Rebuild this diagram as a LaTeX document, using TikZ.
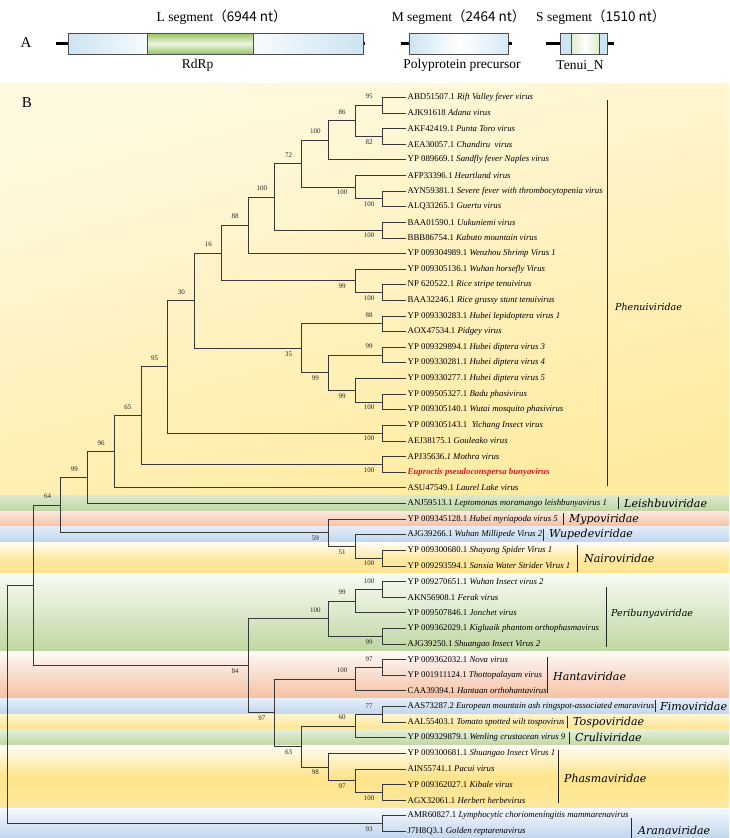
\documentclass[tikz,border=0pt]{standalone}
\usepackage{fontspec}
\setmainfont{Liberation Serif}
\newfontfamily\cjk{Noto Sans CJK SC}
\newfontfamily\famfont{DejaVu Serif}
\pgfmathdeclarefunction{ly}{1}{\pgfmathparse{97.3+(#1-1)*15.62}}
\pgfmathdeclarefunction{cx}{1}{\pgfmathparse{408.8-26.79*#1}}
\definecolor{ylw}{RGB}{255,228,140}
\definecolor{phtop}{RGB}{255,249,224}
\definecolor{phbot}{RGB}{255,235,160}
\definecolor{grn}{RGB}{190,214,160}
\definecolor{org}{RGB}{245,192,162}
\definecolor{blu}{RGB}{192,213,238}
\definecolor{lblue}{RGB}{205,228,242}
\definecolor{rdgreen}{RGB}{150,196,100}
\definecolor{pgreen}{RGB}{238,246,226}
\definecolor{eured}{RGB}{215,25,30}
\begin{document}
\begin{tikzpicture}[x=1pt,y=-1pt,
  branch/.style={draw=black!78, line width=0.75pt},
  leaf/.style={anchor=west, inner sep=1.5pt, font=\fontsize{8.8}{9}\selectfont},
  bsa/.style={anchor=south, inner sep=0pt, yshift=6pt, font=\fontsize{7}{7}\selectfont, text=black!85},
  bsb/.style={anchor=north, inner sep=0pt, yshift=-3pt, font=\fontsize{7}{7}\selectfont, text=black!85},
  fam/.style={anchor=west, inner sep=0pt, font=\famfont\itshape\fontsize{11}{11}\selectfont},
  famsmall/.style={anchor=west, inner sep=0pt, font=\famfont\itshape\fontsize{9.5}{9.5}\selectfont},
  fbar/.style={draw=black!85, line width=0.9pt},
  segtext/.style={inner sep=0pt, font=\fontsize{13.5}{14}\selectfont},
  stub/.style={draw=black, line width=3.5pt},
  segline/.style={draw=black!70, line width=0.6pt}]
\useasboundingbox (0,0) rectangle (729,838);
\fill[white] (0,0) rectangle (729,838);

% ---------- Panel A ----------
\node[inner sep=0pt, font=\fontsize{15}{15}\selectfont] (labA) at (26,43) {A};
\draw[stub] (56,43.6) -- (68.7,43.6);
\shade[left color=lblue, right color=white!85!lblue] (68.7,33.3) rectangle (147.7,54);
\shade[top color=rdgreen, bottom color=rdgreen, middle color=pgreen] (147.7,33.3) rectangle (252.8,54);
\shade[left color=white!85!lblue, right color=lblue] (252.8,33.3) rectangle (363.6,54);
\draw[segline] (68.7,33.3) rectangle (363.6,54);
\draw[segline] (147.7,33.3) -- (147.7,54) (252.8,33.3) -- (252.8,54);
\draw[stub, line width=2.5pt] (363.6,43.6) -- (365,43.6);
\node[segtext, anchor=west] (ltxt) at (156.5,16.7) {L segment\cjk{（}6944 nt\cjk{）}};
\node[segtext] (rdrp) at (197.6,65.7) {RdRp};

\draw[stub] (401,43.6) -- (409,43.6);
\draw[stub] (508,43.6) -- (512,43.6);
\shade[left color=lblue, right color=lblue!80, middle color=white] (408.9,33.3) rectangle (508.4,54);
\draw[segline] (408.9,33.3) rectangle (508.4,54);
\node[segtext, anchor=west] (mtxt) at (391.6,16.7) {M segment\cjk{（}2464 nt\cjk{）}};
\node[segtext] (poly) at (462,65.7) {Polyprotein precursor};

\draw[stub] (545.8,43.6) -- (560,43.6);
\draw[stub] (607,43.6) -- (613.5,43.6);
\fill[lblue] (559.8,33.3) rectangle (571,54);
\shade[left color=pgreen!80!rdgreen, right color=pgreen!80!rdgreen, middle color=white] (571,33.3) rectangle (599,54);
\fill[lblue] (599,33.3) rectangle (607.5,54);
\draw[segline] (559.8,33.3) rectangle (607.5,54);
\draw[segline] (571,33.3) -- (571,54) (599,33.3) -- (599,54);
\node[segtext, anchor=west] (stxt) at (536,16.7) {S segment\cjk{（}1510 nt\cjk{）}};
\node[segtext] (tenui) at (580,65.7) {Tenui\_N};

% ---------- Panel B backgrounds ----------
\shade[top color=phtop, bottom color=phbot, shading angle=15] (0,83) rectangle (729,{ly(26.5)});
\shade[top color=grn!55!white, bottom color=grn] (0,{ly(26.5)}) rectangle (729,{ly(27.5)});
\shade[top color=org!35!white, bottom color=org] (0,{ly(27.5)}) rectangle (729,{ly(28.5)});
\shade[top color=blu!45!white, bottom color=blu] (0,{ly(28.5)}) rectangle (729,{ly(29.5)});
\shade[top color=ylw!10!white, bottom color=ylw, middle color=ylw!80!white] (0,{ly(29.5)}) rectangle (729,{ly(31.5)});
\shade[top color=grn!10!white, bottom color=grn] (0,{ly(31.5)}) rectangle (729,{ly(36.5)});
\shade[top color=org!10!white, bottom color=org] (0,{ly(36.5)}) rectangle (729,{ly(39.5)});
\shade[top color=blu!40!white, bottom color=blu] (0,{ly(39.5)}) rectangle (729,{ly(40.5)});
\shade[top color=ylw!40!white, bottom color=ylw] (0,{ly(40.5)}) rectangle (729,{ly(41.5)});
\shade[top color=grn!40!white, bottom color=grn] (0,{ly(41.5)}) rectangle (729,{ly(42.5)});
\shade[top color=ylw!10!white, bottom color=ylw!85!white, middle color=ylw] (0,{ly(42.5)}) rectangle (729,{ly(46.5)});
\shade[top color=blu!15!white, bottom color=blu] (0,{ly(46.5)}) rectangle (729,838);

\node[inner sep=0pt, font=\fontsize{15}{15}\selectfont] (labB) at (27,103) {B};

% ---------- Leaves ----------
\foreach \i/\t in {
 1/{ABD51507.1 \textit{Rift Valley fever virus}},
 2/{AJK91618 \textit{Adana virus}},
 3/{AKF42419.1 \textit{Punta Toro virus}},
 4/{AEA30057.1 \textit{Chandiru\ \ virus}},
 5/{YP 089669.1 \textit{Sandfly fever Naples virus}},
 6/{AFP33396.1 \textit{Heartland virus}},
 7/{AYN59381.1 \textit{Severe fever with thrombocytopenia virus}},
 8/{ALQ33265.1 \textit{Guertu virus}},
 9/{BAA01590.1 \textit{Uukuniemi virus}},
 10/{BBB86754.1 \textit{Kabuto mountain virus}},
 11/{YP 009304989.1 \textit{Wenzhou Shrimp Virus 1}},
 12/{YP 009305136.1 \textit{Wuhan horsefly Virus}},
 13/{NP 620522.1 \textit{Rice stripe tenuivirus}},
 14/{BAA32246.1 \textit{Rice grassy stunt tenuivirus}},
 15/{YP 009330283.1 \textit{Hubei lepidoptera virus 1}},
 16/{AOX47534.1 \textit{Pidgey virus}},
 17/{YP 009329894.1 \textit{Hubei diptera virus 3}},
 18/{YP 009330281.1 \textit{Hubei diptera virus 4}},
 19/{YP 009330277.1 \textit{Hubei diptera virus 5}},
 20/{YP 009505327.1 \textit{Badu phasivirus}},
 21/{YP 009305140.1 \textit{Wutai mosquito phasivirus}},
 22/{YP 009305143.1\ \ \textit{Yichang Insect virus}},
 23/{AEJ38175.1 \textit{Gouleako virus}},
 24/{APJ35636.\textit{1 Mothra virus}},
 25/{\textcolor{eured}{\bfseries\itshape Euproctis pseudoconspersa bunyavirus}},
 26/{ASU47549.1 \textit{Laurel Lake virus}},
 27/{ANJ59513.1 \textit{Leptomonas moramango leishbunyavirus 1}},
 28/{YP 009345128.1 \textit{Hubei myriapoda virus 5}},
 29/{AJG39266.1 \textit{Wuhan Millipede Virus 2}},
 30/{YP 009300680.1 \textit{Shayang Spider Virus 1}},
 31/{YP 009293594.1 \textit{Sanxia Water Strider Virus 1}},
 32/{YP 009270651.1 \textit{Wuhan Insect virus 2}},
 33/{AKN56908.1 \textit{Ferak virus}},
 34/{YP 009507846.1 \textit{Jonchet virus}},
 35/{YP 009362029.1 \textit{Kigluaik phantom orthophasmavirus}},
 36/{AJG39250.1 \textit{Shuangao Insect Virus 2}},
 37/{YP 009362032.1 \textit{Nova virus}},
 38/{YP 001911124.1 \textit{Thottopalayam virus}},
 39/{CAA39394.1 \textit{Hantaan orthohantavirus}},
 40/{AAS73287.2 \textit{European mountain ash ringspot-associated emaravirus}},
 41/{AAL55403.1 \textit{Tomato spotted wilt tospovirus}},
 42/{YP 009329879.1 \textit{Wenling crustacean virus 9}},
 43/{YP 009300681.1 \textit{Shuangao Insect Virus 1}},
 44/{AIN55741.1 \textit{Pacui virus}},
 45/{YP 009362027.1 \textit{Kibale virus}},
 46/{AGX32061.1 \textit{Herbert herbevirus}},
 47/{AMR60827.1 \textit{Lymphocytic choriomeningitis mammarenavirus}},
 48/{J7H8Q3.1 \textit{Golden reptarenavirus}}}
 \node[leaf] (L\i) at (406,{ly(\i)}) {\t};

% ---------- Internal nodes ----------
\foreach \n/\h/\u in {a1/1/1.5, a2/1/3.5, a3/2/2.5, a4/3/3.75, a5/1/7.5, a6/2/6.75,
  a7/4/5.25, a8/1/9.5, a9/5/7.375, a10/6/9.1875, b1/1/13.5, b2/2/12.75,
  a11/7/10.96875, c1/1/15.5, c2/1/17.5, c3/1/20.5, c4/2/19.75, c5/3/18.625,
  c6/4/17.0625, a12/8/14.015625, d1/1/22.5, a13/9/18.2578, d2/1/24.5,
  a14/10/21.3789, a15/11/23.6895, a16/12/25.3447, e1/1/30.5, e2/2/29.75,
  e3/3/28.875, a17/13/27.1099, f1/1/32.5, f2/2/33.25, f3/1/35.5, f4/3/34.375,
  g1/1/37.5, g2/2/38.25, k1/1/40.5, k2/2/41.25, i1/1/45.5, i2/2/44.75,
  i3/3/43.875, k3/4/42.5625, g3/5/40.40625, f5/6/37.3906, a18/14/32.2503,
  j1/1/47.5, root/15/39.875}
  \coordinate (\n) at ({cx(\h)},{ly(\u)});

% ---------- Branches ----------
\foreach \p/\c in {a1/L1.west, a1/L2.west, a2/L3.west, a2/L4.west, a3/a1, a3/a2,
  a4/a3, a4/L5.west, a5/L7.west, a5/L8.west, a6/L6.west, a6/a5, a7/a4, a7/a6,
  a8/L9.west, a8/L10.west, a9/a7, a9/a8, a10/a9, a10/L11.west,
  b1/L13.west, b1/L14.west, b2/L12.west, b2/b1, a11/a10, a11/b2,
  c1/L15.west, c1/L16.west, c2/L17.west, c2/L18.west, c3/L20.west, c3/L21.west,
  c4/L19.west, c4/c3, c5/c2, c5/c4, c6/c1, c6/c5, a12/a11, a12/c6,
  d1/L22.west, d1/L23.west, a13/a12, a13/d1, d2/L24.west, d2/L25.west,
  a14/a13, a14/d2, a15/a14, a15/L26.west, a16/a15, a16/L27.west,
  e1/L30.west, e1/L31.west, e2/L29.west, e2/e1, e3/L28.west, e3/e2,
  a17/a16, a17/e3, f1/L32.west, f1/L33.west, f2/f1, f2/L34.west,
  f3/L35.west, f3/L36.west, f4/f2, f4/f3, g1/L37.west, g1/L38.west,
  g2/g1, g2/L39.west, k1/L40.west, k1/L41.west, k2/k1, k2/L42.west,
  i1/L45.west, i1/L46.west, i2/L44.west, i2/i1, i3/L43.west, i3/i2,
  k3/k2, k3/i3, g3/g2, g3/k3, f5/f4, f5/g3, a18/a17, a18/f5,
  j1/L47.west, j1/L48.west, root/a18, root/j1}
  \draw[branch] (\p) |- (\c);

% ---------- Support values ----------
\foreach \n/\v in {a1/95, a3/86, a4/100, a7/72, a9/100, a10/88, a11/16, c1/88,
  c2/99, a12/30, a13/95, a14/65, a15/96, a16/99, a17/64, f1/100, f2/99, f4/100,
  g1/97, g2/100, k1/77, k2/60}
  \node[bsa] at ([xshift=-13pt]\n) {\v};
\foreach \n/\v in {a2/82, a5/100, a6/100, a8/100, b1/100, b2/99, c3/100, c4/99,
  c5/99, c6/35, d1/100, d2/100, e1/100, e2/51, e3/59, f3/99, i1/100, i2/97,
  i3/98, k3/63, g3/97, f5/84, j1/93}
  \node[bsb] at ([xshift=-13pt]\n) {\v};

% ---------- Family bars and names ----------
\draw[fbar] (607,100) -- (607,486);
\node[famsmall] (phen) at (615,307) {Phenuiviridae};
\draw[fbar] (618,{ly(27)-6}) -- (618,{ly(27)+6});
\node[fam] (leish) at (624,{ly(27)}) {Leishbuviridae};
\draw[fbar] (563,{ly(28)-6}) -- (563,{ly(28)+6});
\node[fam] (mypo) at (569,{ly(28)}) {Mypoviridae};
\draw[fbar] (543,{ly(29)-6}) -- (543,{ly(29)+6});
\node[fam] (wupe) at (549,{ly(29)}) {Wupedeviridae};
\draw[fbar] (577,545) -- (577,572);
\node[fam] (nairo) at (584,558) {Nairoviridae};
\draw[fbar] (606,587) -- (606,647);
\node[famsmall] (peri) at (611,614) {Peribunyaviridae};
\draw[fbar] (547,657) -- (547,693);
\node[fam] (hanta) at (553,676) {Hantaviridae};
\draw[fbar] (655,{ly(40)-6}) -- (655,{ly(40)+6});
\node[fam] (fimo) at (660,{ly(40)}) {Fimoviridae};
\draw[fbar] (567,{ly(41)-6}) -- (567,{ly(41)+6});
\node[fam] (tospo) at (573,{ly(41)}) {Tospoviridae};
\draw[fbar] (569,{ly(42)-6}) -- (569,{ly(42)+6});
\node[fam] (cruli) at (575,{ly(42)}) {Cruliviridae};
\draw[fbar] (558,750) -- (558,803);
\node[fam] (phasma) at (564,778) {Phasmaviridae};
\draw[fbar] (631,818) -- (631,838);
\node[fam] (arena) at (638,830) {Aranaviridae};
\end{tikzpicture}
\end{document}
